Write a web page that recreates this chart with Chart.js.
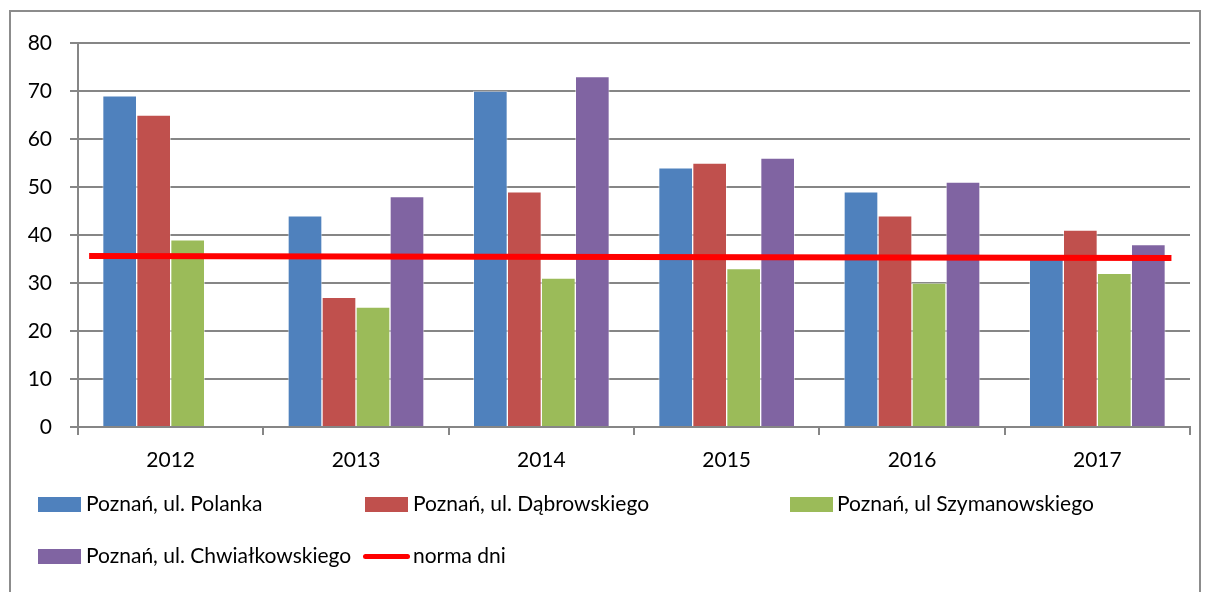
<!DOCTYPE html>
<html lang="pl">
<head>
<meta charset="UTF-8" />
<title>Norma dni</title>
<script src="https://cdn.jsdelivr.net/npm/chart.js@4"></script>
<style>
  body { margin: 0; background: #fff; font-family: Lato, "Open Sans", sans-serif; }
  .frame { position: absolute; left: 9px; top: 10px; width: 1188px; height: 600px; border: 2px solid #8c8c8c; }
  .box { position: absolute; left: 0; top: 0; width: 1208px; height: 592px; }
  .leg { position: absolute; font-size: 21px; color: #000; white-space: nowrap; line-height: 21px; }
</style>
</head>
<body>
<div class="frame"></div>
<div class="box"><canvas id="myChart" width="1208" height="592"></canvas></div>
<div id="legend"></div>
<script>
var years = ['2012', '2013', '2014', '2015', '2016', '2017'];
var polanka = [69, 44, 70, 54, 49, 35];
var dabrowskiego = [65, 27, 49, 55, 44, 41];
var szymanowskiego = [39, 25, 31, 33, 30, 32];
var chwialkowskiego = [null, 48, 73, 56, 51, 38];
// red "norma dni" line runs almost edge to edge
var normaX = [-0.44, 5.4];
var normaY = [35.6, 35.2];

var names = ['Poznań, ul. Polanka', 'Poznań, ul. Dąbrowskiego', 'Poznań, ul Szymanowskiego', 'Poznań, ul. Chwiałkowskiego', 'norma dni'];
var colors = ['#4F81BD', '#C0504D', '#9BBB59', '#8064A2', '#FF0000'];

// all datasets sit on one hidden linear axis (category index = year position),
// the visible category axis only carries the year labels
function bar(i, values) {
  return {
    label: names[i],
    data: values.map(function (v, k) { return { x: k, y: v }; }),
    xAxisID: 'xv',
    backgroundColor: colors[i],
    borderColor: 'rgba(255,255,255,0.45)',
    borderWidth: 1,
    barThickness: 34
  };
}

var ctx = document.getElementById('myChart');
var chart = new Chart(ctx, {
  type: 'bar',
  data: {
    labels: years,
    datasets: [
      bar(0, polanka),
      bar(1, dabrowskiego),
      bar(2, szymanowskiego),
      bar(3, chwialkowskiego),
      {
        type: 'line',
        label: names[4],
        data: normaX.map(function (x, k) { return { x: x, y: normaY[k] }; }),
        xAxisID: 'xv',
        borderColor: colors[4],
        borderWidth: 6,
        pointRadius: 0,
        order: -1
      }
    ]
  },
  options: {
    responsive: false,
    animation: false,
    layout: { padding: { left: 0, right: 18, top: 43, bottom: 0 } },
    plugins: { legend: { display: false }, tooltip: { enabled: false } },
    scales: {
      x: {
        type: 'category',
        offset: true,
        afterFit: function (s) { s.height = 165; },
        grid: { offset: true, drawOnChartArea: false, drawTicks: true, tickLength: 8, color: '#868686', lineWidth: 2 },
        border: { display: true, color: '#868686', width: 2 },
        ticks: { color: '#000', font: { family: 'Lato', size: 21 }, padding: 13 }
      },
      xv: {
        type: 'linear',
        offset: false,
        min: -0.5,
        max: 5.5,
        display: false,
        grid: { offset: false }
      },
      y: {
        min: 0,
        max: 80,
        afterFit: function (s) { s.width = 78; },
        grid: { color: '#868686', lineWidth: 2, tickLength: 8 },
        border: { display: true, color: '#868686', width: 2 },
        ticks: { stepSize: 10, color: '#000', font: { family: 'Lato', size: 21 }, padding: 18 }
      }
    }
  }
});

// legend laid out in columns like the original
var legendItems = [
  { i: 0, x: 38, y: 497, tx: 86 },
  { i: 1, x: 365, y: 497, tx: 413 },
  { i: 2, x: 790, y: 497, tx: 837 },
  { i: 3, x: 38, y: 549, tx: 86 },
  { i: 4, x: 363, y: 549, tx: 413, line: true }
];
var legend = document.getElementById('legend');
legendItems.forEach(function (it) {
  var mark = document.createElement('i');
  mark.style.position = 'absolute';
  mark.style.left = it.x + 'px';
  mark.style.background = colors[it.i];
  if (it.line) {
    mark.style.top = (it.y + 5) + 'px';
    mark.style.width = '47px';
    mark.style.height = '5px';
    mark.style.borderRadius = '3px';
  } else {
    mark.style.top = it.y + 'px';
    mark.style.width = '43px';
    mark.style.height = '15px';
  }
  legend.appendChild(mark);
  var t = document.createElement('div');
  t.className = 'leg';
  t.style.left = it.tx + 'px';
  t.style.top = (it.y - 5) + 'px';
  t.textContent = names[it.i];
  legend.appendChild(t);
});
</script>
</body>
</html>
